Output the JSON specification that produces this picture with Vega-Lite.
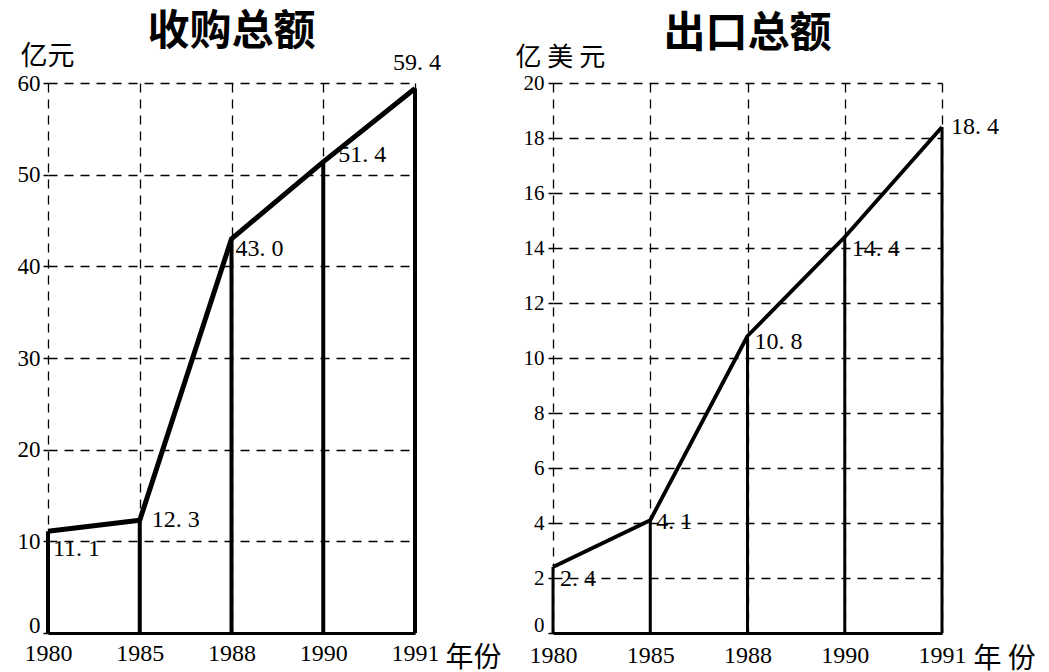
{
  "$schema": "https://vega.github.io/schema/vega-lite/v6.json",
  "padding": {"left": 17, "top": 11, "right": 5, "bottom": 5},
  "background": "white",
  "bounds": "flush",
  "spacing": 138,
  "config": {
    "view": {"stroke": null},
    "axis": {
      "labelFont": "Liberation Serif",
      "labelFontSize": 23,
      "labelColor": "black",
      "gridColor": "black",
      "gridDash": [9, 7],
      "gridWidth": 1.3,
      "gridOpacity": 1,
      "titleFont": "Noto Sans CJK SC",
      "titleFontWeight": "normal",
      "titleFontSize": 27,
      "titleColor": "black"
    },
    "title": {"font": "Noto Sans CJK SC", "fontSize": 42, "fontWeight": "bold", "color": "black"}
  },
  "datasets": {
    "purchase": [
      {"year": "1980", "value": 11.1},
      {"year": "1985", "value": 12.3},
      {"year": "1988", "value": 43.0},
      {"year": "1990", "value": 51.4},
      {"year": "1991", "value": 59.4}
    ],
    "export": [
      {"year": "1980", "value": 2.4},
      {"year": "1985", "value": 4.1},
      {"year": "1988", "value": 10.8},
      {"year": "1990", "value": 14.4},
      {"year": "1991", "value": 18.4}
    ]
  },
  "hconcat": [
    {
      "title": {"text": "收购总额", "offset": -12},
      "width": 367,
      "height": 550,
      "data": {"name": "purchase"},
      "encoding": {
        "x": {
          "field": "year", "type": "ordinal",
          "scale": {"type": "point", "padding": 0, "domain": ["1980", "1985", "1988", "1990", "1991"]},
          "axis": {"labelAngle": 0, "grid": true, "ticks": false, "domain": true, "domainColor": "black", "domainWidth": 3, "labelPadding": 8, "labelFontSize": 24,
                   "title": "年份", "titleFontSize": 28, "titleAnchor": "start", "titleAlign": "left", "titleX": 397, "titleY": 33, "titleBaseline": "alphabetic"}
        },
        "y": {
          "field": "value", "type": "quantitative",
          "scale": {"domain": [0, 60], "nice": false},
          "axis": {"values": [0, 10, 20, 30, 40, 50, 60], "grid": true, "domain": false, "ticks": true, "tickColor": "black", "tickSize": 5, "tickWidth": 1.5, "labelPadding": 3,
                   "labelOffset": {"condition": {"test": "datum.value == 0", "value": -8}, "value": 0},
                   "title": "亿元", "titleAngle": 0, "titleAlign": "left", "titleBaseline": "alphabetic", "titleX": -28, "titleY": -19}
        }
      },
      "layer": [
        {"mark": {"type": "rule", "color": "black", "strokeWidth": 4}, "encoding": {"y": {"datum": 0}, "y2": {"field": "value"}}},
        {"mark": {"type": "line", "color": "black", "strokeWidth": 5, "strokeJoin": "round"}},
        {"transform": [{"filter": "datum.year == '1980'"}], "mark": {"type": "text", "font": "Liberation Serif", "fontSize": 24, "align": "left", "baseline": "middle", "dx": 5, "dy": 18, "text": {"expr": "replace(format(datum.value, '.1f'), '.', '. ')"}}},
        {"transform": [{"filter": "datum.year == '1985'"}], "mark": {"type": "text", "font": "Liberation Serif", "fontSize": 24, "align": "left", "baseline": "middle", "dx": 12, "dy": 0, "text": {"expr": "replace(format(datum.value, '.1f'), '.', '. ')"}}},
        {"transform": [{"filter": "datum.year == '1988'"}], "mark": {"type": "text", "font": "Liberation Serif", "fontSize": 24, "align": "left", "baseline": "middle", "dx": 4, "dy": 10, "text": {"expr": "replace(format(datum.value, '.1f'), '.', '. ')"}}},
        {"transform": [{"filter": "datum.year == '1990'"}], "mark": {"type": "text", "font": "Liberation Serif", "fontSize": 24, "align": "left", "baseline": "middle", "dx": 15, "dy": -7, "text": {"expr": "replace(format(datum.value, '.1f'), '.', '. ')"}}},
        {"transform": [{"filter": "datum.year == '1991'"}], "mark": {"type": "text", "font": "Liberation Serif", "fontSize": 24, "align": "center", "baseline": "middle", "dx": 2, "dy": -26, "text": {"expr": "replace(format(datum.value, '.1f'), '.', '. ')"}}}
      ]
    },
    {
      "title": {"text": "出口总额", "offset": -12},
      "width": 389,
      "height": 550,
      "data": {"name": "export"},
      "encoding": {
        "x": {
          "field": "year", "type": "ordinal",
          "scale": {"type": "point", "padding": 0, "domain": ["1980", "1985", "1988", "1990", "1991"]},
          "axis": {"labelAngle": 0, "grid": true, "ticks": false, "domain": true, "domainColor": "black", "domainWidth": 3, "labelPadding": 10, "labelFontSize": 24,
                   "title": "年 份", "titleFontSize": 28, "titleAnchor": "start", "titleAlign": "left", "titleX": 420, "titleY": 34, "titleBaseline": "alphabetic"}
        },
        "y": {
          "field": "value", "type": "quantitative",
          "scale": {"domain": [0, 20], "nice": false},
          "axis": {"values": [0, 2, 4, 6, 8, 10, 12, 14, 16, 18, 20], "grid": true, "domain": false, "ticks": true, "tickColor": "black", "tickSize": 5, "tickWidth": 1.5, "labelPadding": 4, "labelFontSize": 21,
                   "labelOffset": {"condition": {"test": "datum.value == 0", "value": -8}, "value": 0},
                   "title": "亿 美 元", "titleFontSize": 26, "titleAngle": 0, "titleAlign": "left", "titleBaseline": "alphabetic", "titleX": -38, "titleY": -18}
        }
      },
      "layer": [
        {"mark": {"type": "rule", "color": "black", "strokeWidth": 3}, "encoding": {"y": {"datum": 0}, "y2": {"field": "value"}}},
        {"mark": {"type": "line", "color": "black", "strokeWidth": 3.8, "strokeJoin": "round"}},
        {"transform": [{"filter": "datum.year == '1980'"}], "mark": {"type": "text", "font": "Liberation Serif", "fontSize": 24, "align": "left", "baseline": "middle", "dx": 7, "dy": 12, "text": {"expr": "replace(format(datum.value, '.1f'), '.', '. ')"}}},
        {"transform": [{"filter": "datum.year == '1985'"}], "mark": {"type": "text", "font": "Liberation Serif", "fontSize": 24, "align": "left", "baseline": "middle", "dx": 6, "dy": 2, "text": {"expr": "replace(format(datum.value, '.1f'), '.', '. ')"}}},
        {"transform": [{"filter": "datum.year == '1988'"}], "mark": {"type": "text", "font": "Liberation Serif", "fontSize": 24, "align": "left", "baseline": "middle", "dx": 7, "dy": 6, "text": {"expr": "replace(format(datum.value, '.1f'), '.', '. ')"}}},
        {"transform": [{"filter": "datum.year == '1990'"}], "mark": {"type": "text", "font": "Liberation Serif", "fontSize": 24, "align": "left", "baseline": "middle", "dx": 7, "dy": 12, "text": {"expr": "replace(format(datum.value, '.1f'), '.', '. ')"}}},
        {"transform": [{"filter": "datum.year == '1991'"}], "mark": {"type": "text", "font": "Liberation Serif", "fontSize": 24, "align": "left", "baseline": "middle", "dx": 9, "dy": 0, "text": {"expr": "replace(format(datum.value, '.1f'), '.', '. ')"}}}
      ]
    }
  ]
}
